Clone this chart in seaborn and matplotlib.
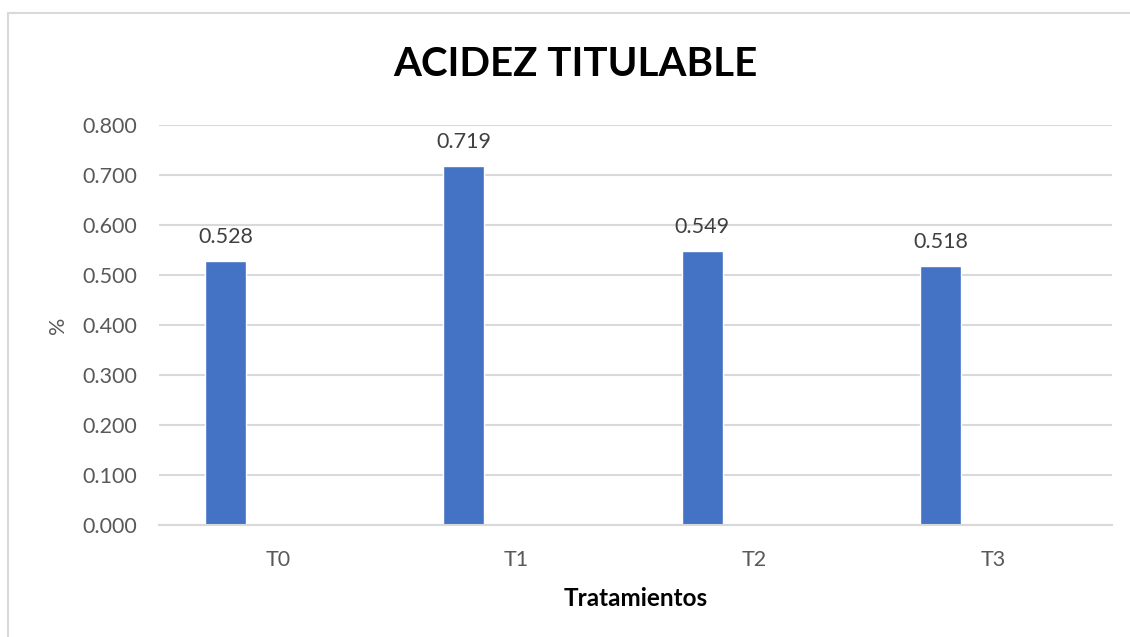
import matplotlib
matplotlib.use("Agg")
import matplotlib.pyplot as plt
import seaborn as sns
import pandas as pd
from matplotlib.patches import Rectangle

categories = ["T0", "T1", "T2", "T3"]
values = [0.528, 0.719, 0.549, 0.518]
series_names = ["Acidez", "Vacía"]
yticks = [0.0, 0.1, 0.2, 0.3, 0.4, 0.5, 0.6, 0.7, 0.8]

sns.set_theme(style="white")
plt.rcParams['font.family'] = ['Lato', 'DejaVu Sans']

df = pd.DataFrame({"Tratamiento": categories, "valor": values, "serie": series_names[0]})

fig = plt.figure(figsize=(11.3, 6.37), dpi=100)
ax = fig.add_axes([159/1130, 1-525/637, (1112-159)/1130, 400/637])

sns.barplot(data=df, x="Tratamiento", y="valor", hue="serie", hue_order=series_names,
            order=categories, palette=["#4472C4", "#ED7D31"], width=0.882, gap=0.609,
            dodge=True, legend=False, ax=ax, saturation=1, errorbar=None)

ax.set_ylim(0, 0.8)
ax.set_yticks(yticks)
ax.set_yticklabels([f"{v:.3f}" for v in yticks])
ax.set_xlim(-0.5, len(categories) - 0.5)
ax.yaxis.grid(True, color="#d9d9d9", linewidth=1.5)
ax.set_axisbelow(True)
for s in ["top", "right", "left"]:
    ax.spines[s].set_visible(False)
ax.spines["bottom"].set_color("#d9d9d9")
ax.spines["bottom"].set_linewidth(1.5)
ax.tick_params(axis="both", length=0, colors="#595959", labelsize=15.5)
ax.tick_params(axis="y", pad=16)
ax.tick_params(axis="x", pad=18)

for c in ax.containers:
    ax.bar_label(c, labels=[f"{v:.3f}" for v in c.datavalues], padding=10,
                 fontsize=15.5, color="#404040")

ax.set_xlabel("Tratamientos", fontsize=17.5, fontweight="bold", color="#000000", labelpad=12)
ax.set_ylabel("%", fontsize=15.5, color="#595959", labelpad=10)

fig.suptitle("ACIDEZ TITULABLE", x=575/1130, y=1-65/637, va="center",
             fontsize=29, fontweight="bold", color="#000000")

fig.patches.append(Rectangle((7.5/1130, -0.1), 1.2, 1 - 12.5/637 + 0.1,
                             transform=fig.transFigure, fill=False,
                             edgecolor="#d9d9d9", linewidth=1.5))

fig.savefig("out.png", dpi=100)
